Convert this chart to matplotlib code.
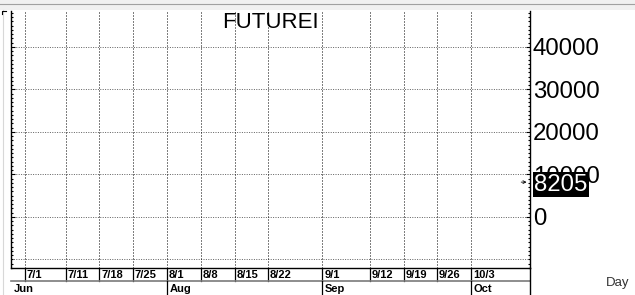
import matplotlib
matplotlib.use("Agg")
import matplotlib.pyplot as plt
from matplotlib.lines import Line2D
from matplotlib.patches import Rectangle

plt.rcParams['font.family'] = ['Liberation Sans', 'DejaVu Sans']

# trading-day index of each date tick (7/1 = day 0)
date_labels = ["7/1", "7/11", "7/18", "7/25", "8/1", "8/8", "8/15", "8/22",
               "9/1", "9/12", "9/19", "9/26", "10/3"]
date_index = [0, 6, 11, 16, 21, 26, 31, 36, 44, 51, 56, 61, 66]
month_labels = ["Jun", "Aug", "Sep", "Oct"]
month_index = [-2.07, 21, 44, 66]
y_ticks = [0, 10000, 20000, 30000, 40000]
y_grid = [-10000, 0, 10000, 20000, 30000, 40000]
last_index = 74.2
last_value = 8205
title = "FUTUREI"

W, H = 635, 295
fig = plt.figure(figsize=(W / 100, H / 100), dpi=100)
fig.patch.set_facecolor("white")

# plot area in pixels
L, R, T, B = 11, 530, 11, 268
ax = fig.add_axes([L / W, (H - B) / H, (R - L) / W, (B - T) / H])
ax.set_xlim(-2.07, 74.7)
ax.set_ylim(-12000, 48470)

ax.spines["top"].set_visible(False)
for s in ["left", "right", "bottom"]:
    ax.spines[s].set_linewidth(1.0)
    ax.spines[s].set_color("black")

# y axis: labels on the right, inward ticks on both sides
ax.set_yticks(y_ticks)
ax.set_yticks(range(-12000, 48001, 1000), minor=True)
ax.tick_params(axis="y", which="both", direction="in", left=True, right=True,
               labelleft=False, labelright=True, width=0.8)
ax.tick_params(axis="y", which="major", length=3, pad=2, labelsize=17.3)
ax.tick_params(axis="y", which="minor", length=1.6)
ax.set_yticklabels([f"{v}" for v in y_ticks])

# x axis: no native ticks
ax.set_xticks([])

# dotted grid
for v in y_grid:
    ax.axhline(v, color="#666666", lw=0.72, linestyle=(0, (1, 1.4)), zorder=1)
for d in date_index:
    ax.axvline(d, color="black", lw=0.72, linestyle=(0, (1, 2)), zorder=1)

ax.text(0.5, 1 - 11 / (B - T), title, transform=ax.transAxes, fontsize=16,
        ha="center", va="center")

# date row and month row below the plot
trans = ax.get_xaxis_transform()
row1 = -13 / (B - T)
row2 = -27 / (B - T)
for lab, d in zip(date_labels, date_index):
    ax.add_line(Line2D([d, d], [0, row1], transform=trans, color="black",
                       lw=0.9, clip_on=False))
    ax.text(d + 0.25, -7.5 / (B - T), lab, transform=trans, fontsize=8,
            fontweight="bold", ha="left", va="center", clip_on=False)
ax.add_line(Line2D([-2.07, 74.7], [row1, row1], transform=trans,
                   color="#7a7a7a", lw=1.2, clip_on=False))
for lab, m in zip(month_labels, month_index):
    if m > 0:
        ax.add_line(Line2D([m, m], [row1, row2], transform=trans,
                           color="black", lw=0.9, clip_on=False))
    ax.text(m + 0.35, -21 / (B - T), lab, transform=trans, fontsize=8,
            fontweight="bold", ha="left", va="center", clip_on=False)
# right axis line runs to the bottom edge
ax.add_line(Line2D([1, 1], [0, row2], transform=ax.transAxes, color="black",
                   lw=1.0, clip_on=False))

# last value marker and box
ax.annotate("", xy=(last_index, last_value), xytext=(last_index - 0.8, last_value),
            arrowprops=dict(arrowstyle="->", lw=0.6, color="black",
                            shrinkA=0, shrinkB=0, mutation_scale=5))
ax.text(1.0 + 4 / (R - L), last_value, f"{last_value}", transform=ax.get_yaxis_transform(),
        fontsize=17.3, color="white", ha="left", va="center_baseline", zorder=10,
        clip_on=False,
        bbox=dict(boxstyle="square,pad=0.05", facecolor="black", edgecolor="none"))

fig.text(606 / W, 1 - 283 / H, "Day", fontsize=9.5, color="#333333",
         ha="left", va="center")

# window frame bits
fig.add_artist(Rectangle((0, 1 - 10 / H), 1, 10 / H, transform=fig.transFigure,
                         facecolor="#f0f0f0", edgecolor="none"))
fig.add_artist(Line2D([0, 1], [1 - 3.5 / H] * 2, transform=fig.transFigure,
                      color="#a0a0a0", lw=0.8))
fig.add_artist(Line2D([2.5 / W] * 2, [0, 1 - 10 / H], transform=fig.transFigure,
                      color="#d8d8d8", lw=0.8))
fig.add_artist(Line2D([1.5 / W, 1.5 / W, 6 / W], [1 - 14 / H, 1 - 10.5 / H, 1 - 10.5 / H],
                      transform=fig.transFigure, color="black", lw=0.8))

fig.savefig("out.png", dpi=100)
